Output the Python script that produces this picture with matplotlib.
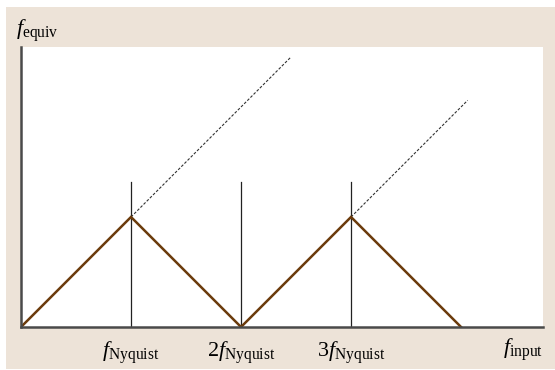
import matplotlib.pyplot as plt
from matplotlib.patches import Rectangle

# values in units of f_Nyquist
tri_x = [0, 1, 2, 3, 4]
tri_y = [0, 1, 0, 1, 0]
vline_x = [1, 2, 3]
vline_top = 1.32
dash1_x = [1, 2.45]
dash1_y = [1, 2.45]
dash2_x = [3, 4.06]
dash2_y = [1, 2.06]
tick_labels = [r'$f_{\mathrm{Nyquist}}$', r'$2f_{\mathrm{Nyquist}}$', r'$3f_{\mathrm{Nyquist}}$']

plt.rcParams['mathtext.fontset'] = 'custom'
plt.rcParams['mathtext.rm'] = 'Liberation Serif'
plt.rcParams['mathtext.it'] = 'Liberation Serif:italic'
plt.rcParams['font.family'] = 'Liberation Serif'

fig = plt.figure(figsize=(5.55, 3.70), dpi=100)
bg = Rectangle((6/555, 1/370), 1 - 6/555, 1 - 8/370,
               transform=fig.transFigure, facecolor='#ede3d8',
               edgecolor='none', zorder=-10)
fig.add_artist(bg)

ax = fig.add_axes([21/555, 43/370, 522/555, 280/370])
ax.set_facecolor('white')
ax.set_xlim(0, 4.745)
ax.set_ylim(0, 2.545)

for xv in vline_x:
    ax.plot([xv, xv], [0, vline_top], color='#222222', lw=0.9)
ax.plot(dash1_x, dash1_y, color='#333333', lw=0.8, ls=(0, (2.5, 1.5)))
ax.plot(dash2_x, dash2_y, color='#333333', lw=0.8, ls=(0, (2.5, 1.5)))
ax.plot(tri_x, tri_y, color='#6b3b0c', lw=1.8, solid_joinstyle='miter')

for s in ['top', 'right']:
    ax.spines[s].set_visible(False)
for s in ['left', 'bottom']:
    ax.spines[s].set_color('#4a4a4a')
    ax.spines[s].set_linewidth(1.8)

ax.set_xticks(vline_x)
ax.set_xticklabels(tick_labels, fontsize=16)
ax.tick_params(axis='x', length=0, pad=9)
ax.set_yticks([])

ax.text(1.0, -27/280, r'$f_{\mathrm{input}}$', transform=ax.transAxes,
        ha='right', va='baseline', fontsize=16)
fig.text(16/555, 1 - 35/370, r'$f_{\mathrm{equiv}}$', ha='left', va='baseline', fontsize=16)

fig.savefig('out.png', dpi=100)
